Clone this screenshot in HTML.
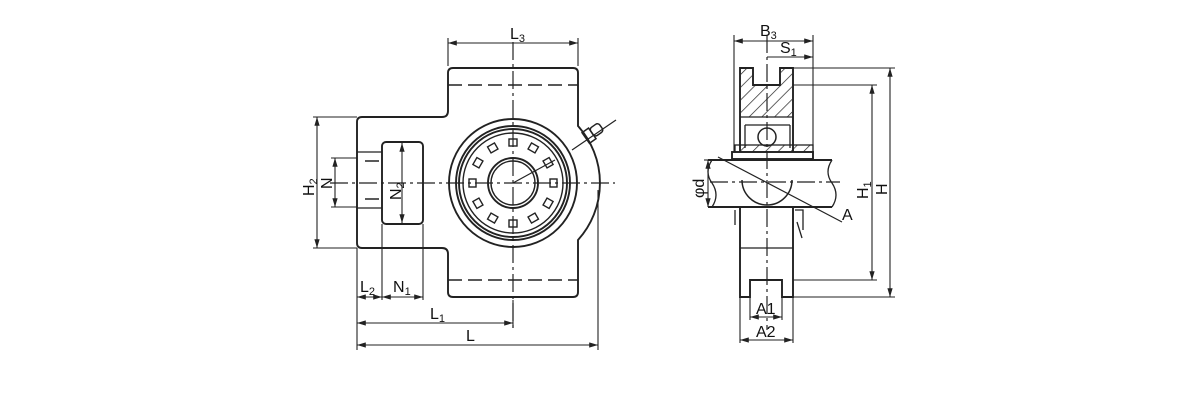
<!DOCTYPE html>
<html><head><meta charset="utf-8"><style>
html,body{margin:0;padding:0;background:#fff;}
svg{display:block;}
text{font-family:"Liberation Sans",sans-serif;fill:#111;}
</style></head><body>
<svg width="1200" height="400" viewBox="0 0 1200 400" xmlns="http://www.w3.org/2000/svg">
<defs>
<pattern id="h" width="9" height="9" patternUnits="userSpaceOnUse" patternTransform="rotate(45)">
<line x1="0" y1="0" x2="0" y2="9" stroke="#222" stroke-width="1.4"/>
</pattern>
<marker id="ar" viewBox="0 0 10 6" refX="10" refY="3" markerWidth="8" markerHeight="5" orient="auto-start-reverse">
<path d="M0,0 L10,3 L0,6 z" fill="#222"/>
</marker>
</defs>
<g fill="none" stroke="#222" stroke-width="1.9">
<path d="M453,68 H573 Q578,68 578,73 V126 A85,85 0 0 1 578,240 V292 Q578,297 573,297 H453 Q448,297 448,292 V254 Q448,248 442,248 H362 Q357,248 357,243 V122 Q357,117 362,117 H442 Q448,117 448,111 V73 Q448,68 453,68 Z"/>
<rect x="382" y="142" width="41" height="82" rx="4"/>
<line x1="357" y1="152" x2="382" y2="152" stroke-width="1.3"/>
<line x1="357" y1="208" x2="382" y2="208" stroke-width="1.3"/>
<circle cx="513" cy="183" r="64"/>
<circle cx="513" cy="183" r="57"/>
<circle cx="513" cy="183" r="54"/>
<circle cx="513" cy="183" r="50" stroke-width="1.4"/>
<circle cx="513" cy="183" r="25"/>
<circle cx="513" cy="183" r="22" stroke-width="1.4"/>
<g stroke-width="1.4">
<rect x="509" y="139" width="8" height="7" transform="rotate(0 513 183)"/>
<rect x="509" y="139" width="8" height="7" transform="rotate(30 513 183)"/>
<rect x="509" y="139" width="8" height="7" transform="rotate(60 513 183)"/>
<rect x="509" y="139" width="8" height="7" transform="rotate(90 513 183)"/>
<rect x="509" y="139" width="8" height="7" transform="rotate(120 513 183)"/>
<rect x="509" y="139" width="8" height="7" transform="rotate(150 513 183)"/>
<rect x="509" y="139" width="8" height="7" transform="rotate(180 513 183)"/>
<rect x="509" y="139" width="8" height="7" transform="rotate(210 513 183)"/>
<rect x="509" y="139" width="8" height="7" transform="rotate(240 513 183)"/>
<rect x="509" y="139" width="8" height="7" transform="rotate(270 513 183)"/>
<rect x="509" y="139" width="8" height="7" transform="rotate(300 513 183)"/>
<rect x="509" y="139" width="8" height="7" transform="rotate(330 513 183)"/>
</g>
<g transform="rotate(-35 592 133)" stroke-width="1.5">
<rect x="584" y="127" width="8" height="13"/>
<rect x="592" y="128" width="11" height="10" rx="3"/>
</g>
<line x1="572" y1="150" x2="616" y2="120" stroke-width="1.2"/>
<g stroke-dasharray="14,6" stroke-width="1.5">
<line x1="448" y1="85" x2="578" y2="85"/>
<line x1="448" y1="280" x2="578" y2="280"/>
<line x1="365" y1="161" x2="380" y2="161"/>
<line x1="365" y1="199" x2="380" y2="199"/>
</g>
<g stroke-dasharray="18,4,3,4" stroke-width="1.2">
<line x1="513" y1="42" x2="513" y2="330"/>
<line x1="330" y1="183" x2="615" y2="183"/>
<line x1="767" y1="35" x2="767" y2="330"/>
<line x1="710" y1="182" x2="840" y2="182"/>
</g>
<line x1="513" y1="183" x2="555" y2="160" stroke-width="1.2"/>
<g stroke-width="1.1">
<line x1="448" y1="38" x2="448" y2="66"/><line x1="578" y1="38" x2="578" y2="66"/>
<line x1="448" y1="43" x2="578" y2="43" marker-start="url(#ar)" marker-end="url(#ar)"/>
<line x1="313" y1="117" x2="357" y2="117"/><line x1="313" y1="248" x2="357" y2="248"/>
<line x1="317" y1="117" x2="317" y2="248" marker-start="url(#ar)" marker-end="url(#ar)"/>
<line x1="331" y1="158" x2="357" y2="158"/><line x1="331" y1="207" x2="357" y2="207"/>
<line x1="335" y1="158" x2="335" y2="207" marker-start="url(#ar)" marker-end="url(#ar)"/>
<line x1="402" y1="143" x2="402" y2="223" marker-start="url(#ar)" marker-end="url(#ar)"/>
<line x1="357" y1="248" x2="357" y2="350"/><line x1="382" y1="224" x2="382" y2="300"/>
<line x1="423" y1="224" x2="423" y2="300"/><line x1="598" y1="190" x2="598" y2="350"/>
<line x1="513" y1="300" x2="513" y2="328"/>
<line x1="357" y1="297" x2="382" y2="297" marker-start="url(#ar)" marker-end="url(#ar)"/>
<line x1="382" y1="297" x2="423" y2="297" marker-start="url(#ar)" marker-end="url(#ar)"/>
<line x1="357" y1="323" x2="513" y2="323" marker-start="url(#ar)" marker-end="url(#ar)"/>
<line x1="357" y1="345" x2="598" y2="345" marker-start="url(#ar)" marker-end="url(#ar)"/>
</g>

<path d="M740,152 V68 H753 V85 H780 V68 H793 V152" />
<path d="M741,69 H752 V86 H781 V69 H792 V117 H741 Z" fill="url(#h)" stroke="none"/>
<line x1="740" y1="117" x2="793" y2="117" stroke-width="1.3"/>
<circle cx="767" cy="137" r="9" stroke-width="1.5"/>
<path d="M745,125 H790 M745,125 V148 M790,125 V148" stroke-width="1.3"/>
<rect x="735" y="145" width="78" height="7" fill="url(#h)" stroke-width="1.3"/>
<rect x="732" y="152" width="81" height="7"/>
<path d="M708,160 H832 M708,207 H832"/>
<path d="M712,160 Q704,172 712,183 Q720,195 712,207" stroke-width="1.3"/>
<path d="M832,160 Q824,172 832,183 Q840,195 832,207" stroke-width="1.3"/>
<path d="M742,180 A25,25 0 0 0 792,180" stroke-width="1.5"/>
<path d="M740,207 V297 H750 V280 H782 V297 H793 V207"/>
<line x1="740" y1="248" x2="793" y2="248" stroke-width="1.3"/>
<path d="M793,207 V228 M795,210 H803 V230" stroke-width="1.3"/>
<path d="M797,222 L802,238" stroke-width="1.3"/>
<line x1="735" y1="210" x2="735" y2="225" stroke-width="1.3"/>
<line x1="718" y1="157" x2="842" y2="222" stroke-width="1.2"/>
<g stroke-width="1.1">
<line x1="734" y1="35" x2="734" y2="152"/><line x1="813" y1="35" x2="813" y2="152"/>
<line x1="734" y1="41" x2="813" y2="41" marker-start="url(#ar)" marker-end="url(#ar)"/>
<line x1="767" y1="57" x2="813" y2="57" marker-end="url(#ar)"/>
<line x1="793" y1="68" x2="895" y2="68"/><line x1="793" y1="85" x2="877" y2="85"/>
<line x1="793" y1="280" x2="877" y2="280"/><line x1="793" y1="297" x2="895" y2="297"/>
<line x1="872" y1="85" x2="872" y2="280" marker-start="url(#ar)" marker-end="url(#ar)"/>
<line x1="890" y1="68" x2="890" y2="297" marker-start="url(#ar)" marker-end="url(#ar)"/>
<line x1="750" y1="297" x2="750" y2="320"/><line x1="782" y1="297" x2="782" y2="320"/>
<line x1="740" y1="297" x2="740" y2="343"/><line x1="793" y1="297" x2="793" y2="343"/>
<line x1="750" y1="317" x2="782" y2="317" marker-start="url(#ar)" marker-end="url(#ar)"/>
<line x1="740" y1="340" x2="793" y2="340" marker-start="url(#ar)" marker-end="url(#ar)"/>
<line x1="704" y1="160" x2="712" y2="160"/>
<line x1="708" y1="160" x2="708" y2="207" marker-start="url(#ar)" marker-end="url(#ar)"/>
</g>
</g>
<g font-size="16">
<text x="510" y="39">L<tspan font-size="11" dy="3">3</tspan></text>
<text x="360" y="292">L<tspan font-size="11" dy="3">2</tspan></text>
<text x="393" y="292">N<tspan font-size="11" dy="3">1</tspan></text>
<text x="430" y="319">L<tspan font-size="11" dy="3">1</tspan></text>
<text x="466" y="341">L</text>
<text transform="translate(314,196) rotate(-90)">H<tspan font-size="11" dy="3">2</tspan></text>
<text transform="translate(332,189) rotate(-90)">N</text>
<text transform="translate(401,200) rotate(-90)">N<tspan font-size="11" dy="3">2</tspan></text>
<text x="760" y="36">B<tspan font-size="11" dy="3">3</tspan></text>
<text x="780" y="53">S<tspan font-size="11" dy="3">1</tspan></text>
<text transform="translate(868,199) rotate(-90)">H<tspan font-size="11" dy="3">1</tspan></text>
<text transform="translate(887,195) rotate(-90)">H</text>
<text transform="translate(704,198) rotate(-90)">φd</text>
<text x="842" y="220">A</text>
<text x="756" y="314">A1</text>
<text x="756" y="337">A2</text>
</g>
</svg>
</body></html>
